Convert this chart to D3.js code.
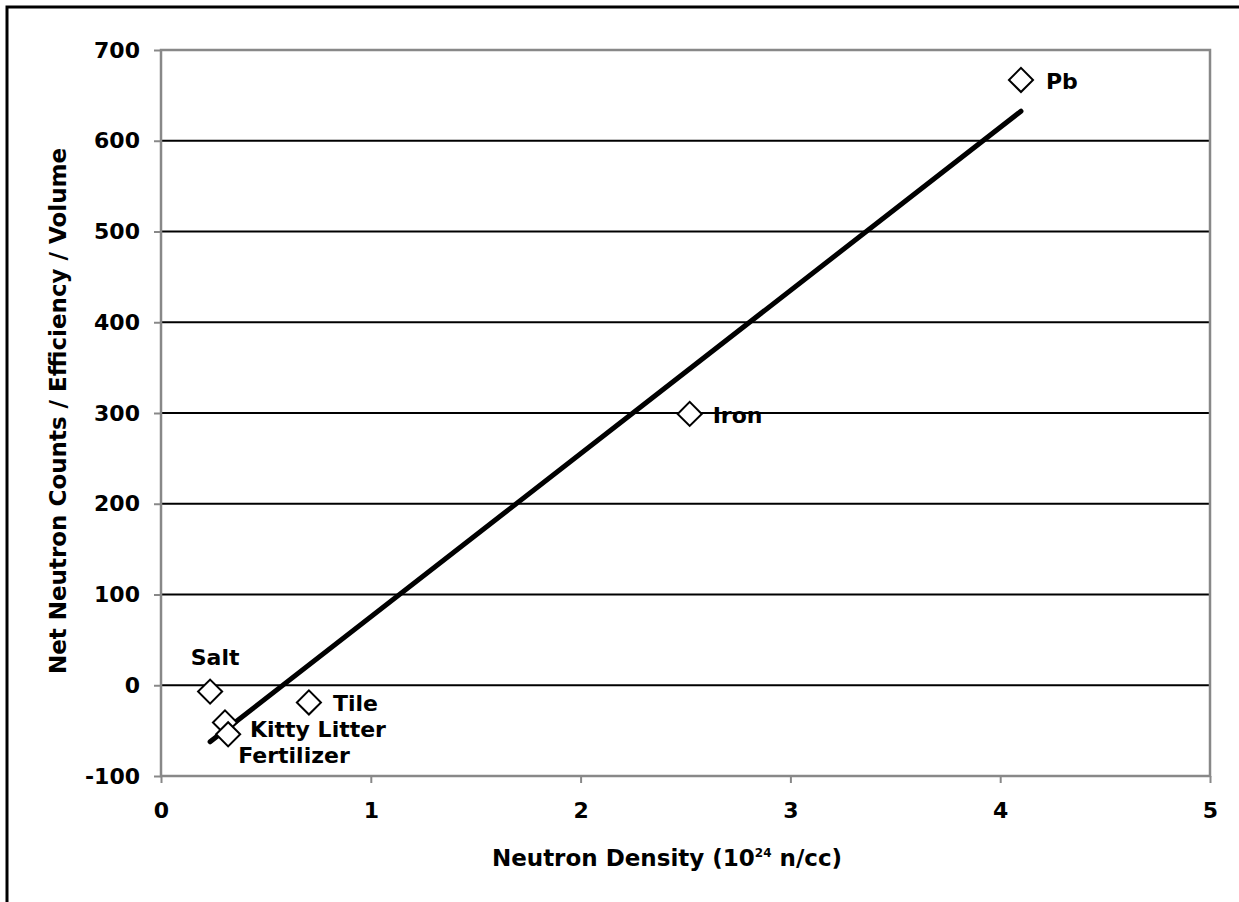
<!DOCTYPE html>
<html><head><meta charset="utf-8">
<script src="https://cdn.jsdelivr.net/npm/d3@7"></script>
<style>body{margin:0;background:#fff;} text{font-family:"DejaVu Sans",Verdana,sans-serif;font-weight:bold;fill:#000;}</style>
</head><body>
<svg id="c" width="1239" height="902"></svg>
<script>
const names = ["Salt","Kitty Litter","Fertilizer","Tile","Iron","Pb"];
const density = [0.234, 0.305, 0.32, 0.705, 2.52, 4.099];
const counts = [-7, -41, -54, -19, 299, 667];
const xTicks = [0,1,2,3,4,5];
const yTicks = [-100,0,100,200,300,400,500,600,700];
const labelOffsets = [[5,-34,"middle"],[25,7,"start"],[10,21,"start"],[24,1,"start"],[23,1,"start"],[25,1,"start"]];

const svg = d3.select("#c");
const x = d3.scaleLinear().domain([0,5]).range([161,1210]);
const y = d3.scaleLinear().domain([-100,700]).range([776,50]);
const FS = 22;

// outer frame (left & top)
svg.append("path").attr("d","M7,902V7H1239").attr("fill","none").attr("stroke","#000").attr("stroke-width",3);

// gridlines
svg.append("g").selectAll("line").data(yTicks.filter(d=>d>-100 && d<700)).join("line")
  .attr("x1",x(0)).attr("x2",x(5)).attr("y1",d=>y(d)).attr("y2",d=>y(d))
  .attr("stroke","#000").attr("stroke-width",2);

// plot border
svg.append("rect").attr("x",x(0)).attr("y",y(700)).attr("width",x(5)-x(0)).attr("height",y(-100)-y(700))
  .attr("fill","none").attr("stroke","#888").attr("stroke-width",2.5);

// axes
const ax = svg.append("g").attr("transform",`translate(0,${y(-100)})`)
  .call(d3.axisBottom(x).tickValues(xTicks).tickSize(7).tickPadding(19).tickFormat(d=>String(d)));
ax.select(".domain").remove();
ax.selectAll("line").attr("stroke","#888").attr("stroke-width",2);
ax.selectAll("text").attr("font-size",FS).style("font-family","DejaVu Sans").style("font-weight","bold");
const ay = svg.append("g").attr("transform",`translate(${x(0)},0)`)
  .call(d3.axisLeft(y).tickValues(yTicks).tickSize(7).tickPadding(14).tickFormat(d=>String(d)));
ay.select(".domain").remove();
ay.selectAll("line").attr("stroke","#888").attr("stroke-width",2);
ay.selectAll("text").attr("font-size",FS).style("font-family","DejaVu Sans").style("font-weight","bold");

// trend line (least squares fit)
const n = density.length;
const mx = d3.mean(density), my = d3.mean(counts);
let sxy=0,sxx=0;
for(let i=0;i<n;i++){sxy+=(density[i]-mx)*(counts[i]-my);sxx+=(density[i]-mx)**2;}
const slope = sxy/sxx, icpt = my-slope*mx;
const [xmin,xmax] = d3.extent(density);
svg.append("line").attr("x1",x(xmin)).attr("y1",y(icpt+slope*xmin))
  .attr("x2",x(xmax)).attr("y2",y(icpt+slope*xmax))
  .attr("stroke","#000").attr("stroke-width",5).attr("stroke-linecap","round");

// markers
const sym = d3.symbol().type(d3.symbolSquare).size(290);
svg.append("g").selectAll("path").data(density).join("path")
  .attr("d",sym()).attr("transform",(d,i)=>`translate(${x(d)},${y(counts[i])}) rotate(45)`)
  .attr("fill","#fff").attr("stroke","#000").attr("stroke-width",2);

// labels
svg.append("g").selectAll("text").data(names).join("text")
  .attr("x",(d,i)=>x(density[i])+labelOffsets[i][0])
  .attr("y",(d,i)=>y(counts[i])+labelOffsets[i][1])
  .attr("dy","0.35em").attr("text-anchor",(d,i)=>labelOffsets[i][2])
  .attr("font-size",FS).text(d=>d);

// axis titles
const xt = svg.append("text").attr("x",667).attr("y",866).attr("text-anchor","middle").attr("font-size",FS+1);
xt.append("tspan").text("Neutron Density (10");
xt.append("tspan").attr("font-size",12).attr("dy",-9).text("24");
xt.append("tspan").attr("dy",9).text(" n/cc)");
svg.append("text").attr("transform","translate(66,411) rotate(-90)").attr("text-anchor","middle")
  .attr("font-size",FS+1).text("Net Neutron Counts / Efficiency / Volume");
</script>
</body></html>
